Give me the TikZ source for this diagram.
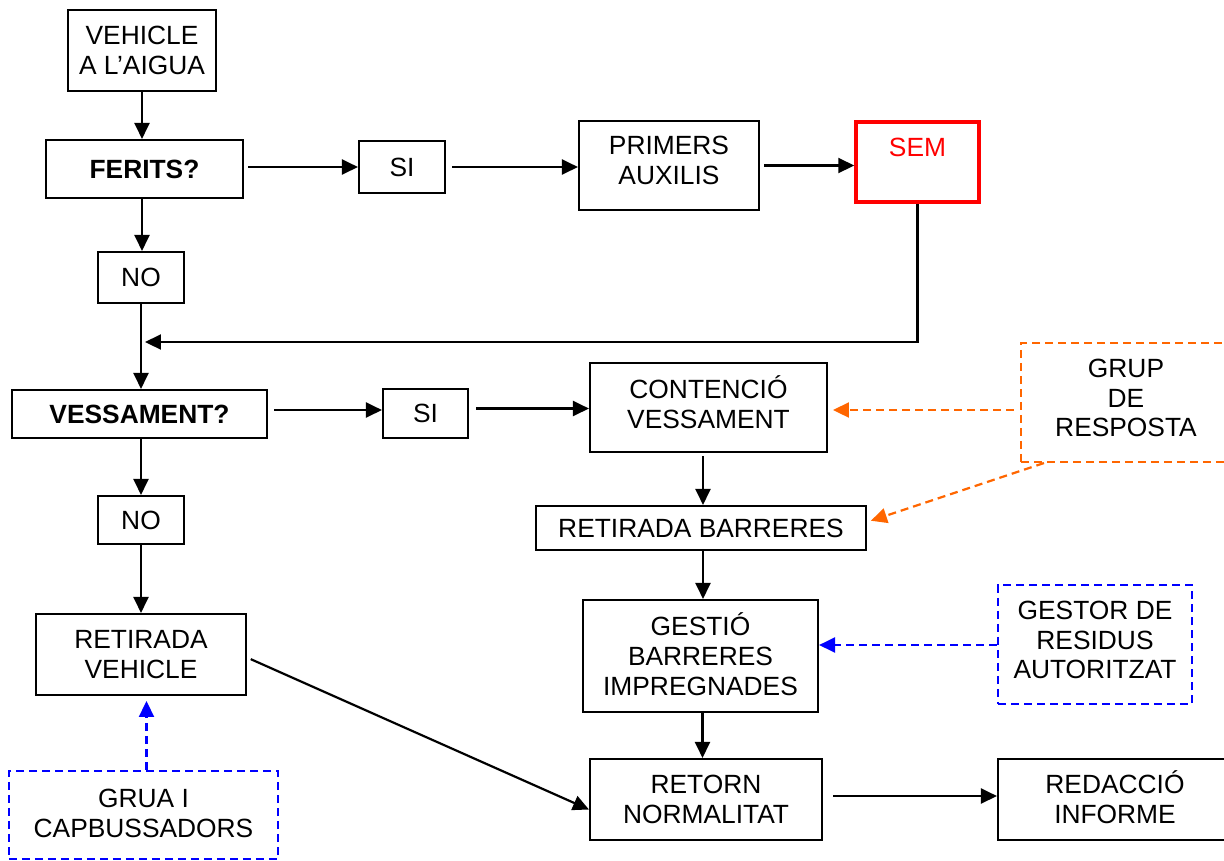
\documentclass[tikz,border=0pt]{standalone}
\usepackage{fontspec}
\setmainfont{Liberation Sans}
\usetikzlibrary{arrows.meta,calc}
\definecolor{orng}{HTML}{FF6600}
\definecolor{bluu}{HTML}{0000FF}
\definecolor{redd}{HTML}{FF0000}
\begin{document}
\begin{tikzpicture}[x=0.02cm,y=-0.02cm,
  font=\fontsize{15}{17}\selectfont,
  wh/.style 2 args={minimum width=#1*0.02cm, minimum height=#2*0.02cm},
  box/.style={draw=black, line width=1.2pt, inner sep=0pt, align=center},
  txt/.style={inner sep=0pt, align=center},
  dbox/.style={draw=#1, line width=1.2pt, dash pattern=on 0.16cm off 0.1cm, inner sep=0pt, align=center},
  arr/.style={draw=black, line width=1.25pt, -{Triangle[length=0.32cm,width=0.3cm]}},
  darr/.style={draw=#1, line width=1.25pt, dash pattern=on 0.16cm off 0.1cm, -{Triangle[length=0.32cm,width=0.3cm]}}]
\useasboundingbox (0,0) rectangle (1224,860);
\clip (0,0) rectangle (1224,860);
% nodes
\node[box, wh={148}{81}] (veh) at (142,50.5) {VEHICLE\\A L'AIGUA};
\node[box, wh={197}{58}] (ferits) at (144.5,169) {\bfseries FERITS?};
\node[box, wh={86}{52}] (si1) at (402,167) {SI};
\node[box, wh={180}{89}] (prim) at (669,165.5) {};
\node[txt] (primt) at (669,160.5) {PRIMERS\\AUXILIS};
\node[box, draw=redd, line width=2pt, text=redd, wh={123}{80}] (sem) at (917.5,162) {SEM\\\mbox{}};
\node[box, wh={86}{51}] (no1) at (141,277.5) {NO};
\coordinate (loopc) at (145,342);
\node[box, wh={255}{48}] (vess) at (139.5,414) {\bfseries VESSAMENT?};
\node[box, wh={85}{49}] (si2) at (425.5,413.5) {SI};
\node[box, wh={237}{89}] (cont) at (708.5,407.5) {};
\node[txt] (contt) at (708.5,402) {CONTENCIÓ\\VESSAMENT};
\node[dbox=orng, wh={210}{119}] (grup) at (1126,402.5) {};
\node[txt] (grupt) at (1126,398) {GRUP\\DE\\RESPOSTA};
\node[box, wh={330}{44}] (retb) at (701,528) {RETIRADA BARRERES};
\node[box, wh={86}{48}] (no2) at (141,520) {NO};
\node[box, wh={210}{81}] (retv) at (141,654.5) {RETIRADA\\VEHICLE};
\node[dbox=bluu, wh={269}{88}] (grua) at (143.5,815) {};
\node[txt] (gruat) at (143.5,813) {GRUA I\\CAPBUSSADORS};
\node[box, wh={235}{112}] (gest) at (700.5,656) {};
\node[txt] (gestt) at (700.5,654) {GESTIÓ\\BARRERES\\IMPREGNADES};
\node[dbox=bluu, wh={194}{119}] (gestor) at (1095,644.5) {};
\node[txt] (gestort) at (1095,640) {GESTOR DE\\RESIDUS\\AUTORITZAT};
\node[box, wh={232}{81}] (ret) at (706,799.5) {RETORN\\NORMALITAT};
\node[box, wh={234}{81}] (red) at (1115,799.5) {};
\node[txt] (redt) at (1115,797.5) {REDACCIÓ\\INFORME};
% connectors
\draw[arr] (veh.south) -- (veh.south |- ferits.north);
\draw[arr, shorten <=2.3pt] ($(ferits.east)+(0,-2)$) -- ($(si1.west)$);
\draw[arr, shorten <=3.4pt] (si1.east) -- (si1.east -| prim.west);
\draw[arr, shorten <=2.3pt] (prim.east) -- (prim.east -| sem.west);
\draw[arr] (veh.south |- ferits.south) -- (veh.south |- no1.north);
\draw[arr] (sem.south) |- (loopc);
\draw[arr] (no1.south) -- (no1.south |- vess.north);
\draw[arr, shorten <=3.4pt] ($(vess.east)+(0,-4)$) -- ($(si2.west)+(0,-3.5)$);
\draw[arr, shorten <=4pt] ($(si2.east)+(0,-5)$) -- ($(si2.east -| cont.west)+(0,-5)$);
\draw[arr] (vess.south -| no2.north) -- (no2.north);
\draw[arr] (no2.south) -- (no2.south |- retv.north);
\draw[arr, shorten <=1.7pt] ($(retb.north |- cont.south)+(2,0)$) -- ($(retb.north)+(2,0)$);
\draw[arr] ($(retb.south)+(2,0)$) -- ($(retb.south |- gest.north)+(2,0)$);
\draw[arr] ($(gest.south)+(2,0)$) -- ($(gest.south |- ret.north)+(2,0)$);
\draw[arr, shorten <=2.3pt] ($(retv.east)+(0,3)$) -- ($(ret.west)+(0,10)$);
\draw[arr, shorten <=5.7pt] ($(ret.east)+(0,-3.5)$) -- ($(red.west)+(0,-3.5)$);
\draw[darr=orng, shorten <=3.4pt, shorten >=2.8pt] ($(grup.west)+(0,7.5)$) -- ($(cont.east)+(0,2.5)$);
\draw[darr=orng, shorten >=2.3pt] ($(grup.south west)+(24,0)$) -- ($(retb.east)+(0,-6)$);
\draw[darr=bluu] ($(gestor.west)+(0,0.5)$) -- ($(gestor.west -| gest.east)+(0,0.5)$);
\draw[darr=bluu, shorten >=2.8pt] ($(grua.north)+(3,0)$) -- ($(grua.north |- retv.south)+(3,0)$);
\end{tikzpicture}
\end{document}
